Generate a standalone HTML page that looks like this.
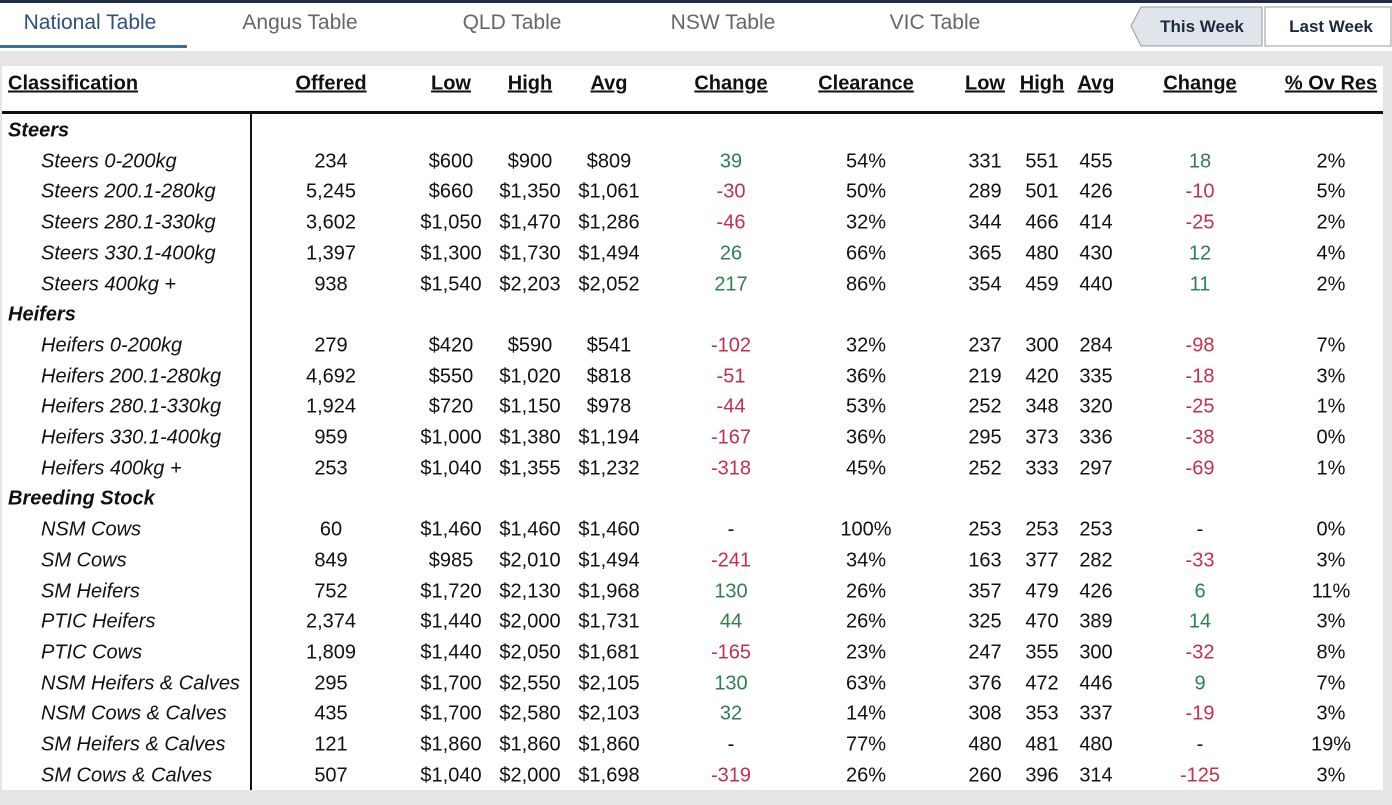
<!DOCTYPE html>
<html><head><meta charset="utf-8"><style>
body{margin:0;width:1392px;height:805px;overflow:hidden;background:#fff;font-family:"Liberation Sans",sans-serif;position:relative}
.a{position:absolute;white-space:nowrap}
.tab{top:11px;font-size:21px;color:#666;transform:translateX(-50%)}
.c{font-size:20px;transform:translate(-50%,-50%);color:#111}
.h{font-weight:bold;text-decoration:underline;font-size:20px;transform:translate(-50%,-50%);color:#111}
.g{color:#2e8050}.r{color:#c2304c}
.l{font-size:20px;font-style:italic;transform:translateY(-50%);color:#111}
</style></head><body>
<div class="a" style="left:0;top:0;width:1392px;height:3px;background:#1f2d4a"></div>
<div class="a tab" style="left:90px;color:#2f4f7f">National Table</div>
<div class="a" style="left:0;top:45px;width:187px;height:3px;background:#3d6ea3"></div>
<div class="a tab" style="left:300px">Angus Table</div>
<div class="a tab" style="left:512px">QLD Table</div>
<div class="a tab" style="left:723px">NSW Table</div>
<div class="a tab" style="left:935px">VIC Table</div>
<svg class="a" style="left:1128px;top:6px" width="264" height="42">
<polygon points="13,1 134,1 134,40 13,40 3,20" fill="#dfe5ea" stroke="#999"/>
<rect x="137" y="1" width="126" height="39" fill="#fff" stroke="#999"/>
</svg>
<div class="a" style="left:1202px;top:27px;transform:translate(-50%,-50%);font-weight:bold;font-size:17px;color:#1c2a40">This Week</div>
<div class="a" style="left:1331px;top:27px;transform:translate(-50%,-50%);font-weight:bold;font-size:17px;color:#1c2a40">Last Week</div>
<div class="a" style="left:0;top:51px;width:1392px;height:754px;background:#e6e6e6"></div>
<div class="a" style="left:2px;top:66px;width:1381px;height:724px;background:#fff"></div>
<div class="a" style="left:2px;top:111px;width:1381px;height:3px;background:#111"></div>
<div class="a" style="left:250px;top:113px;width:2px;height:677px;background:#111"></div>
<div id="t"></div>
<script>
const headers=["Offered","Low","High","Avg","Change","Clearance","Low","High","Avg","Change","% Ov Res"];
const labels=["Steers","Steers 0-200kg","Steers 200.1-280kg","Steers 280.1-330kg","Steers 330.1-400kg","Steers 400kg +","Heifers","Heifers 0-200kg","Heifers 200.1-280kg","Heifers 280.1-330kg","Heifers 330.1-400kg","Heifers 400kg +","Breeding Stock","NSM Cows","SM Cows","SM Heifers","PTIC Heifers","PTIC Cows","NSM Heifers & Calves","NSM Cows & Calves","SM Heifers & Calves","SM Cows & Calves"];
const rows=[null,
["234","$600","$900","$809","39","54%","331","551","455","18","2%"],
["5,245","$660","$1,350","$1,061","-30","50%","289","501","426","-10","5%"],
["3,602","$1,050","$1,470","$1,286","-46","32%","344","466","414","-25","2%"],
["1,397","$1,300","$1,730","$1,494","26","66%","365","480","430","12","4%"],
["938","$1,540","$2,203","$2,052","217","86%","354","459","440","11","2%"],
null,
["279","$420","$590","$541","-102","32%","237","300","284","-98","7%"],
["4,692","$550","$1,020","$818","-51","36%","219","420","335","-18","3%"],
["1,924","$720","$1,150","$978","-44","53%","252","348","320","-25","1%"],
["959","$1,000","$1,380","$1,194","-167","36%","295","373","336","-38","0%"],
["253","$1,040","$1,355","$1,232","-318","45%","252","333","297","-69","1%"],
null,
["60","$1,460","$1,460","$1,460","-","100%","253","253","253","-","0%"],
["849","$985","$2,010","$1,494","-241","34%","163","377","282","-33","3%"],
["752","$1,720","$2,130","$1,968","130","26%","357","479","426","6","11%"],
["2,374","$1,440","$2,000","$1,731","44","26%","325","470","389","14","3%"],
["1,809","$1,440","$2,050","$1,681","-165","23%","247","355","300","-32","8%"],
["295","$1,700","$2,550","$2,105","130","63%","376","472","446","9","7%"],
["435","$1,700","$2,580","$2,103","32","14%","308","353","337","-19","3%"],
["121","$1,860","$1,860","$1,860","-","77%","480","481","480","-","19%"],
["507","$1,040","$2,000","$1,698","-319","26%","260","396","314","-125","3%"]];
const colX=[331,451,530,609,731,866,985,1042,1096,1200,1331];
const t=document.getElementById('t');
function mk(cls,x,y,txt){const d=document.createElement('div');d.className='a '+cls;d.style.left=x+'px';d.style.top=y+'px';d.textContent=txt;t.appendChild(d);return d;}
let h=mk('h',0,84,'Classification');h.style.transform='translateY(-50%)';h.style.left='8px';


headers.forEach((s,i)=>{const e=mk('h',colX[i],84,s);

});
labels.forEach((lab,r)=>{const y=131+r*30.7;const grp=rows[r]===null;
const e=mk('l',grp?8:41,y,lab);if(grp)e.style.fontWeight='bold';


if(!grp)rows[r].forEach((v,i)=>{let cls='c';if(i==4||i==9){if(v.startsWith('-')&&v!='-')cls+=' r';else if(v!='-')cls+=' g';}
const c=mk(cls,colX[i],y,v);

});});
</script>
</body></html>
